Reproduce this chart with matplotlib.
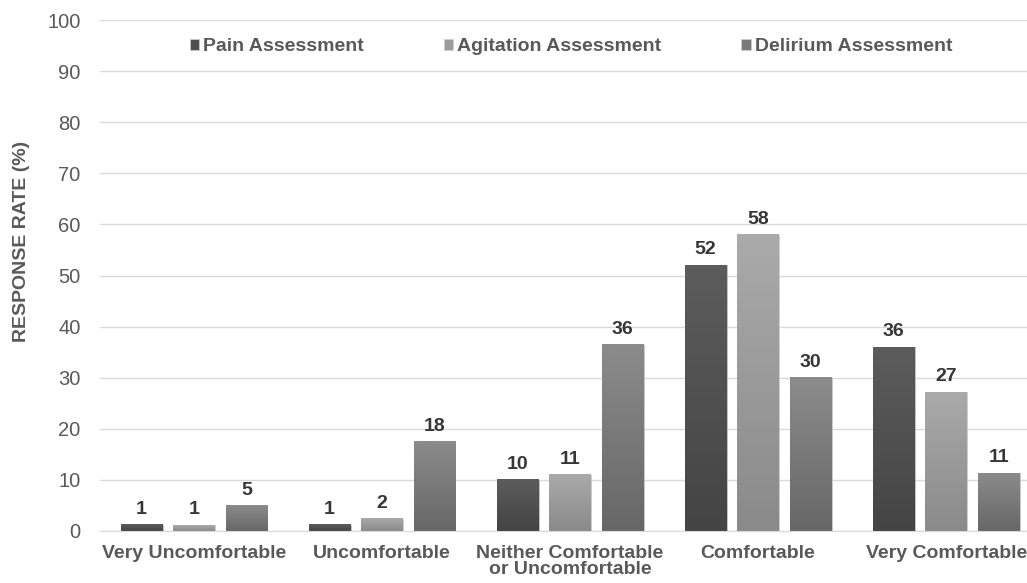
import matplotlib.pyplot as plt
import numpy as np
from matplotlib.colors import LinearSegmentedColormap

categories = [
    "Very Uncomfortable",
    "Uncomfortable",
    "Neither Comfortable\nor Uncomfortable",
    "Comfortable",
    "Very Comfortable",
]
series_names = ["Pain Assessment", "Agitation Assessment", "Delirium Assessment"]
pain = [1.2, 1.2, 10.0, 52.0, 36.0]
agitation = [1.1, 2.4, 11.0, 58.0, 27.2]
delirium = [5.0, 17.5, 36.4, 30.0, 11.3]
colors = ["#4f4f4f", "#9c9c9c", "#7a7a7a"]
# (bottom, top) shades for the gradient fill
shades = [("#444444", "#5c5c5c"), ("#8a8a8a", "#aaaaaa"), ("#676767", "#8b8b8b")]


def main() -> None:
    plt.rcParams["font.family"] = ["Liberation Sans", "DejaVu Sans"]
    fig = plt.figure(figsize=(10.27, 5.83), dpi=100)
    ax = fig.add_axes([100 / 1027, 1 - 531 / 583, 927 / 1027, 511 / 583])

    x = np.arange(len(categories))
    width = 0.223
    step = 0.279
    grad = np.linspace(0, 1, 64).reshape(-1, 1)
    for i, (name, vals) in enumerate(zip(series_names, [pain, agitation, delirium])):
        bars = ax.bar(x + (i - 1) * step, vals, width, color=colors[i], label=name,
                      zorder=3, edgecolor="#cfcfcf", linewidth=0.5)
        cmap = LinearSegmentedColormap.from_list(name, list(shades[i]))
        for b, v in zip(bars, vals):
            x0 = b.get_x()
            ax.imshow(grad, cmap=cmap, origin="lower", aspect="auto", zorder=3.5,
                      extent=[x0, x0 + b.get_width(), 0, v], interpolation="bilinear")
            ax.annotate(f"{v:.0f}", (x0 + b.get_width() / 2, v),
                        xytext=(0, 5), textcoords="offset points",
                        ha="center", va="bottom", fontsize=14,
                        fontweight="bold", color="#363636")

    ax.set_xlim(-0.5, 4.43)
    ax.set_ylim(0, 100)
    ax.set_yticks(range(0, 101, 10))
    ax.set_xticks(x)
    ax.set_xticklabels(categories, fontsize=14, fontweight="bold", color="#595959",
                       linespacing=0.95)
    ax.tick_params(axis="y", labelsize=14.5, labelcolor="#595959", length=0, pad=14)
    ax.tick_params(axis="x", length=0, pad=10)
    ax.grid(axis="y", color="#d9d9d9", linewidth=1, zorder=0)
    for side in ["top", "right", "left"]:
        ax.spines[side].set_visible(False)
    ax.spines["bottom"].set_color("#d9d9d9")
    ax.spines["bottom"].set_zorder(4)
    ax.set_ylabel("RESPONSE RATE (%)", fontsize=14, fontweight="bold", color="#595959")
    ax.yaxis.set_label_coords(-0.076, 0.566)

    leg = ax.legend(loc="upper center", bbox_to_anchor=(0.508, 0.999), ncol=3,
                    frameon=False, handlelength=0.5, handleheight=0.5,
                    handletextpad=0.2, columnspacing=4.1,
                    prop={"size": 14, "weight": "bold"})
    for t in leg.get_texts():
        t.set_color("#595959")

    fig.savefig("out.png")


if __name__ == "__main__":
    main()
